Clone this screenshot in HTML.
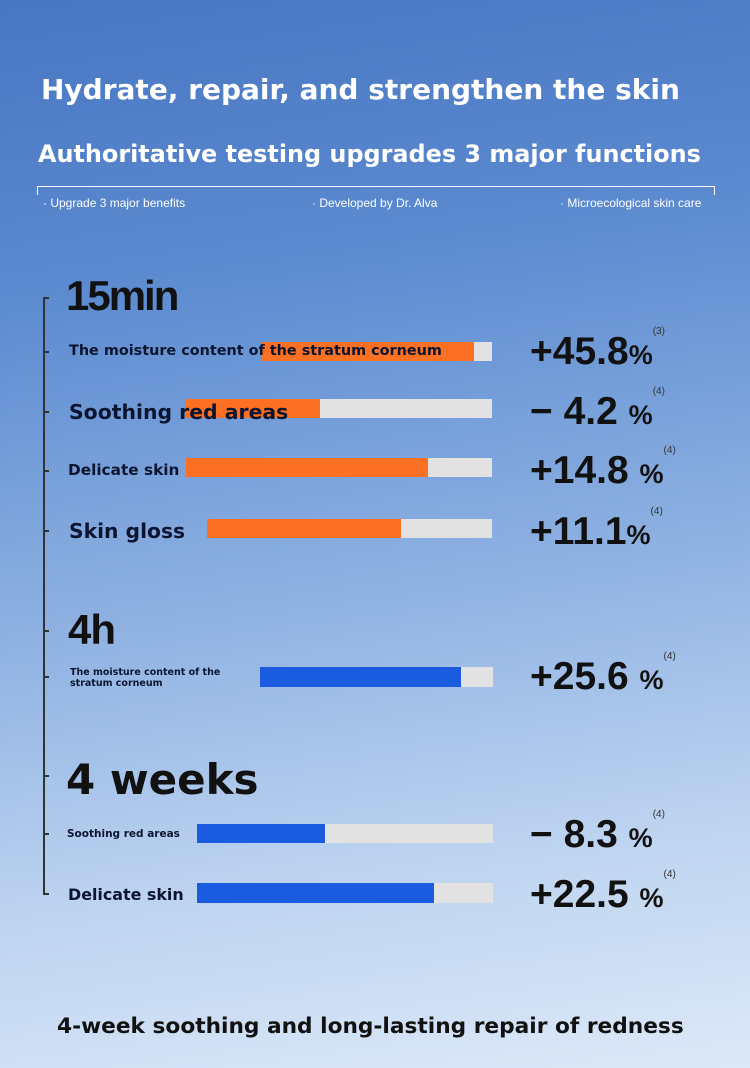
<!DOCTYPE html>
<html><head><meta charset="utf-8"><style>
body{margin:0}
#p{position:relative;width:750px;height:1068px;overflow:hidden;font-family:"DejaVu Sans","Liberation Sans",sans-serif;
background:linear-gradient(172deg,#4876c2 0%,#5b8ad0 25%,#8fb2e2 55%,#bcd3f0 78%,#dde9f8 100%);}
.a{position:absolute;white-space:nowrap}
.h1{left:41px;top:73px;font-size:28px;font-weight:bold;color:#fff}
.h2{left:38px;top:140px;font-size:23.9px;font-weight:bold;color:#fff}
.sm{font-size:12px;color:#fff;top:196px;font-family:"Liberation Sans",sans-serif}
.bar{position:absolute;background:#e2e2e2}
.fill{position:absolute;left:0;top:0;bottom:0}
.o{background:#fb7022}.b{background:#1b5be0}
.lab{font-weight:bold;color:#0c1530}
.num{font-weight:bold;color:#111;font-size:39px;font-family:"Liberation Sans",sans-serif}
.num small{font-size:27px}
.num sup{font-size:10px;font-weight:normal;color:#333;vertical-align:top;position:relative;top:-4px}
.big{font-weight:bold;color:#111}
.tk{position:absolute;left:43px;width:6px;height:2px;background:#333}
</style></head><body><div id="p">
<div class="a h1">Hydrate, repair, and strengthen the skin</div>
<div class="a h2">Authoritative testing upgrades 3 major functions</div>
<div class="a" style="left:37px;top:186px;width:676px;height:8px;border:1px solid #fff;border-bottom:none"></div>
<div class="a sm" style="left:43px">· Upgrade 3 major benefits</div>
<div class="a sm" style="left:312px">· Developed by Dr. Alva</div>
<div class="a sm" style="left:560px">· Microecological skin care</div>

<div class="a" style="left:43px;top:297px;width:2px;height:597px;background:#333"></div>
<div class="tk" style="top:297px"></div><div class="tk" style="top:351px"></div><div class="tk" style="top:411px"></div>
<div class="tk" style="top:470px"></div><div class="tk" style="top:530px"></div><div class="tk" style="top:630px"></div>
<div class="tk" style="top:676px"></div><div class="tk" style="top:775px"></div><div class="tk" style="top:833px"></div><div class="tk" style="top:893px"></div>

<div class="a big" style="left:66px;top:272px;font-size:42px;letter-spacing:-2px;font-family:'Liberation Sans',sans-serif">15min</div>
<div class="a big" style="left:68px;top:606px;font-size:42px;letter-spacing:-1px;font-family:'Liberation Sans',sans-serif">4h</div>
<div class="a big" style="left:66px;top:755px;font-size:42px">4 weeks</div>

<div class="bar" style="left:262px;top:342px;width:230px;height:19px"><div class="fill o" style="width:212px"></div></div>
<div class="bar" style="left:185px;top:399px;width:307px;height:19px"><div class="fill o" style="width:135px"></div></div>
<div class="bar" style="left:186px;top:458px;width:306px;height:19px"><div class="fill o" style="width:242px"></div></div>
<div class="bar" style="left:207px;top:519px;width:285px;height:19px"><div class="fill o" style="width:194px"></div></div>
<div class="bar" style="left:260px;top:667px;width:233px;height:20px"><div class="fill b" style="width:201px"></div></div>
<div class="bar" style="left:197px;top:824px;width:296px;height:19px"><div class="fill b" style="width:128px"></div></div>
<div class="bar" style="left:197px;top:883px;width:296px;height:20px"><div class="fill b" style="width:237px"></div></div>

<div class="a lab" style="left:69px;top:343px;font-size:14.4px">The moisture content of the stratum corneum</div>
<div class="a lab" style="left:69px;top:400px;font-size:20.4px">Soothing red areas</div>
<div class="a lab" style="left:68px;top:461px;font-size:15.3px">Delicate skin</div>
<div class="a lab" style="left:69px;top:519px;font-size:20.3px">Skin gloss</div>
<div class="a lab" style="left:70px;top:667px;font-size:9.5px;line-height:11px">The moisture content of the<br>stratum corneum</div>
<div class="a lab" style="left:67px;top:828px;font-size:10.5px">Soothing red areas</div>
<div class="a lab" style="left:68px;top:885px;font-size:15.9px">Delicate skin</div>

<div class="a num" style="left:530px;top:330px">+45.8<small>%</small><sup>(3)</sup></div>
<div class="a num" style="left:530px;top:390px">− 4.2 <small>%</small><sup>(4)</sup></div>
<div class="a num" style="left:530px;top:449px">+14.8 <small>%</small><sup>(4)</sup></div>
<div class="a num" style="left:530px;top:510px">+11.1<small>%</small><sup>(4)</sup></div>
<div class="a num" style="left:530px;top:655px">+25.6 <small>%</small><sup>(4)</sup></div>
<div class="a num" style="left:530px;top:813px">− 8.3 <small>%</small><sup>(4)</sup></div>
<div class="a num" style="left:530px;top:873px">+22.5 <small>%</small><sup>(4)</sup></div>

<div class="a lab" style="left:57px;top:1014px;font-size:21.7px;color:#111">4-week soothing and long-lasting repair of redness</div>
</div></body></html>
